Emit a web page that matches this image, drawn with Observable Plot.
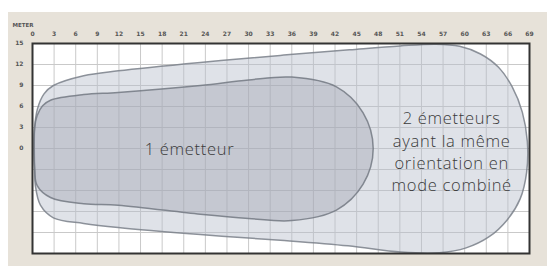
<!DOCTYPE html>
<html><head><meta charset="utf-8">
<script src="https://cdn.jsdelivr.net/npm/d3@7"></script>
<script src="https://cdn.jsdelivr.net/npm/@observablehq/plot@0.6"></script>
<style>
body{margin:0;background:#fff;}
#wrap{position:relative;width:547px;height:266px;overflow:hidden;}
#bg{position:absolute;left:8px;top:12px;right:0;bottom:0;background:#e7e2d9;}
#wrap svg{position:absolute;left:0;top:0;background:transparent;}
.biglabel text{letter-spacing:0.7px;}
</style></head><body><div id="wrap"><div id="bg"></div></div>
<script>
// Tick labels (metres)
const xTicks = [0,3,6,9,12,15,18,21,24,27,30,33,36,39,42,45,48,51,54,57,60,63,66,69];
const yTicks = [0,3,6,9,12,15];
const gridX = [3,6,9,12,15,18,21,24,27,30,33,36,39,42,45,48,51,54,57,60,63,66];
const gridY = [-12,-9,-6,-3,0,3,6,9,12];

// Coverage shapes: [x metres, y metres]
const outerShape = [
  [0.3,-3],[0.3,3],[0.7,5.7],[1.6,7.8],[2.9,9],[7.1,10.4],[11.9,11.1],[23.3,12.3],
  [34.4,13.3],[44,14.1],[51,14.65],[56,14.9],[59.3,14.6],[62.2,13.5],[64.7,11.6],
  [66.6,8.8],[68,5.2],[68.7,1],[68.6,-3.4],[67.7,-7.2],[65.9,-10.2],[63.4,-12.6],
  [60.2,-14.2],[56.5,-14.9],[51.1,-14.8],[43.8,-13.9],[34.4,-13.1],[23.3,-12.3],[11.9,-11.3],
  [7.1,-10.7],[2.9,-9.9],[1.1,-8.1],[0.4,-5.3]
];
const innerShape = [
  [0.3,-3],[0.3,3],[0.65,4.7],[1.4,6.1],[2.5,6.9],[7.1,7.7],[11.9,8],[23.3,9],
  [30,9.8],[36,10.2],[42.2,8.8],[45.9,5.1],[47.3,0],[45.9,-5.1],[42.2,-8.8],
  [36,-10.3],[30,-10],[23.3,-9.4],
  [11.9,-8.1],[7.1,-7.9],[2.5,-7],[0.65,-5.3]
];

const labelX = [21.8, 58.2];
const labelY = [0.1, -0.3];
const labelText = ["1 émetteur", "2 émetteurs\nayant la même\norientation en\nmode combiné"];
const unitLabel = ["METER"];

const labels = labelText.map((t, i) => ({x: labelX[i], y: labelY[i], t}));

const chart = Plot.plot({
  width: 547,
  height: 266,
  marginLeft: 32,
  marginTop: 43,
  marginRight: 18,
  marginBottom: 13,
  style: {background: "transparent", fontFamily: "DejaVu Sans", color: "#555"},
  x: {domain: [0, 69]},
  y: {domain: [-15, 15]},
  marks: [
    Plot.frame({fill: "white"}),
    Plot.ruleX(gridX, {stroke: "#c9c9c9", strokeWidth: 1}),
    Plot.ruleY(gridY, {stroke: "#c9c9c9", strokeWidth: 1}),
    Plot.line(outerShape, {x: d => d[0], y: d => d[1], curve: "catmull-rom-closed",
      fill: "#b8bfcc", fillOpacity: 0.45, stroke: "#7a808a", strokeWidth: 1.5, strokeOpacity: 0.85}),
    Plot.line(innerShape, {x: d => d[0], y: d => d[1], curve: "catmull-rom-closed",
      fill: "#9a9fab", fillOpacity: 0.38, stroke: "#737983", strokeWidth: 1.5, strokeOpacity: 0.85}),
    Plot.frame({stroke: "#333", strokeWidth: 2}),
    Plot.axisX(xTicks, {anchor: "top", label: null, tickSize: 0, tickPadding: 8, fontSize: 6, fontWeight: "bold", fill: "#555"}),
    Plot.axisY(yTicks, {anchor: "left", label: null, tickSize: 0, tickPadding: 9, fontSize: 6, fontWeight: "bold", fill: "#555"}),
    Plot.text(unitLabel, {text: d => d, frameAnchor: "top-left", dx: -20, dy: -20, textAnchor: "start",
      fontSize: 5.5, fontWeight: "bold", fill: "#555"}),
    Plot.text(labels, {x: "x", y: "y", text: "t", fontFamily: "Open Sans", fontWeight: 300, fontSize: 16.5, lineHeight: 1.35,
      fill: "#3a3a3a", textAnchor: "middle", className: "biglabel"})
  ]
});
document.getElementById("wrap").appendChild(chart);
</script>
</body></html>
